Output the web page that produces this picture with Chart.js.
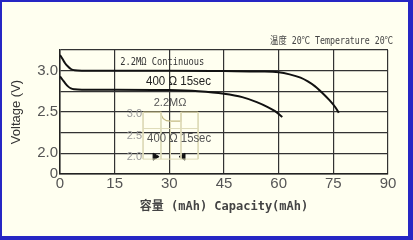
<!DOCTYPE html>
<html>
<head>
<meta charset="utf-8">
<script src="https://cdn.jsdelivr.net/npm/chart.js@4/dist/chart.umd.min.js"></script>
<style>
  html, body { margin: 0; padding: 0; background: #fffff0; }
  #frame {
    width: 413px; height: 240px; box-sizing: border-box;
    border-style: solid; border-color: #2626c4;
    border-width: 2px 5px 4px 2px;
    background: #fffff0;
  }
  #chart { display: block; }
</style>
</head>
<body>
<div id="frame"><canvas id="chart" width="406" height="234"></canvas></div>
<script>
// 2.2 MOhm continuous discharge
var contX = [0, 0.7, 1.4, 2.2, 3, 4, 6, 15, 30, 45, 55, 60, 63, 66, 68, 70, 72, 74, 75.5, 76.5];
var contY = [3.19, 3.14, 3.09, 3.05, 3.02, 3.005, 3.0, 3.0, 3.0, 2.995, 2.99, 2.98, 2.955, 2.915, 2.87, 2.81, 2.73, 2.64, 2.56, 2.49];

// 400 Ohm 15sec pulse
var pulseX = [0, 0.7, 1.4, 2.2, 3, 4, 6, 15, 30, 38, 45, 50, 54, 57, 59, 61];
var pulseY = [2.93, 2.89, 2.85, 2.81, 2.785, 2.775, 2.77, 2.77, 2.765, 2.75, 2.72, 2.68, 2.62, 2.56, 2.51, 2.44];

// small pulse sketch inside the chart
var insetWaveX = [22.8, 27.7, 27.7, 28.3, 29.2, 30.3, 33.2, 33.2, 37.9];
var insetWaveY = [2.50, 2.50, 2.47, 2.42, 2.395, 2.39, 2.39, 2.50, 2.50];
var insetFrameX = [22.8, 22.8, null, 27.7, 27.7, null, 30.3, 30.3, null, 33.2, 33.2, null, 37.9, 37.9, null, 22.8, 37.9, null, 22.8, 37.9];
var insetFrameY = [2.50, 1.93, null, 2.50, 1.93, null, 2.39, 1.93, null, 2.50, 1.93, null, 2.50, 1.93, null, 2.30, 2.30, null, 1.93, 1.93];
var arrowX = [26.1, 33.75];
var arrowY = [1.96, 1.96];

var xTicks = [0, 15, 30, 45, 60, 75, 90];
var yGrid = [1.75, 2.0, 2.25, 2.5, 2.75, 3.0, 3.25];
var yTickText = ['0', '2.0', '', '2.5', '', '3.0', ''];

function pts(xs, ys) {
    var out = [];
    for (var i = 0; i < xs.length; i++) {
        out.push({ x: xs[i] === null ? NaN : xs[i], y: ys[i] });
    }
    return out;
}

var notes = [
    { text: '2.2MΩ Continuous', x: 16.5, y: 3.105, font: '10px "DejaVu Sans Mono"', color: '#333', align: 'left', w: 84 },
    { text: '400 Ω 15sec', x: 23.6, y: 2.864, font: '12px "Liberation Sans"', color: '#222', align: 'left', w: 65 },
    { text: '2.2MΩ', x: 30.2, y: 2.61, font: '11px "Liberation Sans"', color: '#555', align: 'center', w: 40 },
    { text: '3.0', x: 22.5, y: 2.477, font: '11px "Liberation Sans"', color: '#999', align: 'right', w: 20 },
    { text: '2.5', x: 22.5, y: 2.21, font: '11px "Liberation Sans"', color: '#999', align: 'right', w: 20 },
    { text: '2.0', x: 22.5, y: 1.96, font: '11px "Liberation Sans"', color: '#999', align: 'right', w: 20 },
    { text: '400 Ω 15sec', x: 23.9, y: 2.175, font: '12px "Liberation Sans"', color: '#555', align: 'left', w: 64 },
    { text: '温度 20℃ Temperature 20℃', x: 91.4, y: 3.35, font: '10px "DejaVu Sans Mono", "Noto Sans CJK SC"', color: '#444', align: 'right', w: 123 }
];

var notePlugin = {
    id: 'notes',
    afterDraw: function (chart) {
        var c = chart.ctx, sx = chart.scales.x, sy = chart.scales.y;
        c.save();
        c.textBaseline = 'middle';
        notes.forEach(function (n) {
            c.font = n.font;
            c.fillStyle = n.color;
            c.textAlign = n.align;
            c.fillText(n.text, sx.getPixelForValue(n.x), sy.getPixelForValue(n.y), n.w);
        });
        c.restore();
    }
};

var ctx = document.getElementById('chart').getContext('2d');
new Chart(ctx, {
    type: 'line',
    data: {
        datasets: [{
            label: 'frame',
            data: pts(insetFrameX, insetFrameY),
            borderColor: '#dedbb8',
            borderWidth: 1,
            pointRadius: 0,
            spanGaps: false
        }, {
            label: 'wave',
            data: pts(insetWaveX, insetWaveY),
            borderColor: '#c4bb82',
            borderWidth: 1.2,
            pointRadius: 0
        }, {
            label: 'arrows',
            data: pts(arrowX, arrowY),
            showLine: false,
            pointStyle: 'triangle',
            pointRotation: [90, -90],
            pointRadius: 4,
            backgroundColor: '#111',
            borderColor: '#111',
            borderWidth: 1
        }, {
            label: '2.2MΩ Continuous',
            data: pts(contX, contY),
            borderColor: '#111',
            borderWidth: 2,
            pointRadius: 0,
            cubicInterpolationMode: 'monotone'
        }, {
            label: '400 Ω 15sec',
            data: pts(pulseX, pulseY),
            borderColor: '#111',
            borderWidth: 2,
            pointRadius: 0,
            cubicInterpolationMode: 'monotone'
        }]
    },
    options: {
        responsive: false,
        animation: false,
        layout: { padding: { top: 48, right: 20, left: 0, bottom: 0 } },
        plugins: {
            legend: { display: false },
            tooltip: { enabled: false }
        },
        scales: {
            x: {
                type: 'linear',
                min: 0,
                max: 90,
                afterFit: function (s) { s.height = 62; },
                afterBuildTicks: function (s) { s.ticks = xTicks.map(function (v) { return { value: v }; }); },
                grid: { color: '#333', lineWidth: 1.2, drawTicks: false },
                border: { color: '#222', width: 1.5 },
                ticks: { padding: 1, color: '#555', autoSkip: false, font: { family: 'Liberation Sans', size: 15 } },
                title: {
                    display: true,
                    text: '容量 (mAh) Capacity(mAh)',
                    color: '#444',
                    font: { family: '"DejaVu Sans Mono", "Noto Sans CJK SC"', size: 12, weight: 'bold' },
                    padding: { top: 0, bottom: 22 }
                }
            },
            y: {
                min: 1.75,
                max: 3.25,
                afterFit: function (s) { s.width = 58; },
                afterBuildTicks: function (s) { s.ticks = yGrid.map(function (v) { return { value: v }; }); },
                grid: { color: '#333', lineWidth: 1.2, drawTicks: false },
                border: { color: '#222', width: 1.5 },
                ticks: {
                    padding: 2,
                    autoSkip: false,
                    color: '#555',
                    font: { family: 'Liberation Sans', size: 15 },
                    callback: function (v, i) { return yTickText[i]; }
                },
                title: {
                    display: true,
                    text: 'Voltage (V)',
                    color: '#333',
                    font: { family: 'Liberation Sans', size: 13 },
                    padding: { top: 7, bottom: 0 }
                }
            }
        }
    },
    plugins: [notePlugin]
});
</script>
</body>
</html>
